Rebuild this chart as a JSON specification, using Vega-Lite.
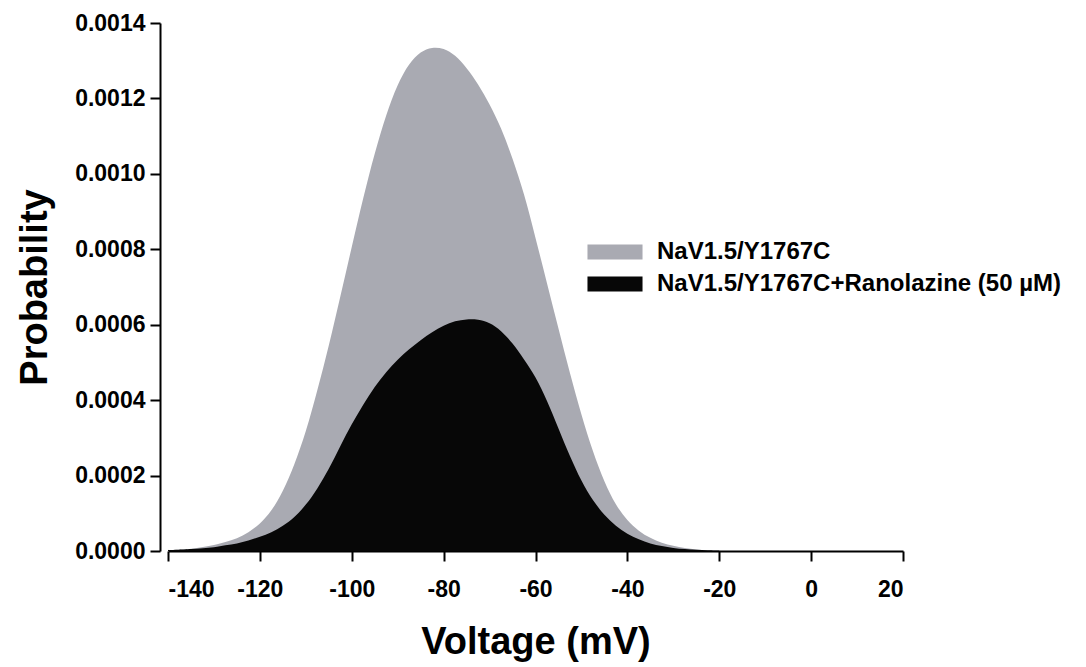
{
  "$schema": "https://vega.github.io/schema/vega-lite/v6.json",
  "width": 735,
  "height": 528,
  "autosize": {"type": "none"},
  "padding": {"left": 168, "top": 23, "right": 183, "bottom": 116},
  "background": "white",
  "config": {
    "view": {"stroke": null},
    "font": "Liberation Sans",
    "axis": {
      "domainColor": "black",
      "domainWidth": 2,
      "tickColor": "black",
      "tickWidth": 2,
      "tickSize": 10,
      "grid": false,
      "labelFont": "Liberation Sans",
      "labelFontWeight": "bold",
      "labelFontSize": 23,
      "labelColor": "black",
      "titleFont": "Liberation Sans",
      "titleFontWeight": "bold",
      "titleFontSize": 38,
      "titleColor": "black"
    },
    "legend": {
      "labelFont": "Liberation Sans",
      "labelFontWeight": "bold",
      "labelFontSize": 24,
      "labelColor": "black",
      "labelLimit": 600
    }
  },
  "data": {
    "values": [
      {"series": "NaV1.5/Y1767C", "voltage": -140, "probability": 0.000002},
      {"series": "NaV1.5/Y1767C", "voltage": -135, "probability": 0.000006},
      {"series": "NaV1.5/Y1767C", "voltage": -130, "probability": 0.000016},
      {"series": "NaV1.5/Y1767C", "voltage": -127.5, "probability": 0.000024},
      {"series": "NaV1.5/Y1767C", "voltage": -125, "probability": 0.000034},
      {"series": "NaV1.5/Y1767C", "voltage": -122.5, "probability": 0.00005},
      {"series": "NaV1.5/Y1767C", "voltage": -120, "probability": 0.000073},
      {"series": "NaV1.5/Y1767C", "voltage": -117.5, "probability": 0.000108},
      {"series": "NaV1.5/Y1767C", "voltage": -115, "probability": 0.00016},
      {"series": "NaV1.5/Y1767C", "voltage": -112.5, "probability": 0.00023},
      {"series": "NaV1.5/Y1767C", "voltage": -110, "probability": 0.000318},
      {"series": "NaV1.5/Y1767C", "voltage": -107.5, "probability": 0.000426},
      {"series": "NaV1.5/Y1767C", "voltage": -105, "probability": 0.000545},
      {"series": "NaV1.5/Y1767C", "voltage": -102.5, "probability": 0.000674},
      {"series": "NaV1.5/Y1767C", "voltage": -100, "probability": 0.000806},
      {"series": "NaV1.5/Y1767C", "voltage": -97.5, "probability": 0.000935},
      {"series": "NaV1.5/Y1767C", "voltage": -95, "probability": 0.001053},
      {"series": "NaV1.5/Y1767C", "voltage": -92.5, "probability": 0.001155},
      {"series": "NaV1.5/Y1767C", "voltage": -90, "probability": 0.001235},
      {"series": "NaV1.5/Y1767C", "voltage": -87.5, "probability": 0.00129},
      {"series": "NaV1.5/Y1767C", "voltage": -85, "probability": 0.001322},
      {"series": "NaV1.5/Y1767C", "voltage": -82.5, "probability": 0.001334},
      {"series": "NaV1.5/Y1767C", "voltage": -80, "probability": 0.001331},
      {"series": "NaV1.5/Y1767C", "voltage": -77.5, "probability": 0.001313},
      {"series": "NaV1.5/Y1767C", "voltage": -75, "probability": 0.00128},
      {"series": "NaV1.5/Y1767C", "voltage": -72.5, "probability": 0.001237},
      {"series": "NaV1.5/Y1767C", "voltage": -70, "probability": 0.001184},
      {"series": "NaV1.5/Y1767C", "voltage": -67.5, "probability": 0.00112},
      {"series": "NaV1.5/Y1767C", "voltage": -65, "probability": 0.00104},
      {"series": "NaV1.5/Y1767C", "voltage": -62.5, "probability": 0.000945},
      {"series": "NaV1.5/Y1767C", "voltage": -60, "probability": 0.00083},
      {"series": "NaV1.5/Y1767C", "voltage": -57.5, "probability": 0.00071},
      {"series": "NaV1.5/Y1767C", "voltage": -55, "probability": 0.00059},
      {"series": "NaV1.5/Y1767C", "voltage": -52.5, "probability": 0.000472},
      {"series": "NaV1.5/Y1767C", "voltage": -50, "probability": 0.000362},
      {"series": "NaV1.5/Y1767C", "voltage": -47.5, "probability": 0.000265},
      {"series": "NaV1.5/Y1767C", "voltage": -45, "probability": 0.000185},
      {"series": "NaV1.5/Y1767C", "voltage": -42.5, "probability": 0.000124},
      {"series": "NaV1.5/Y1767C", "voltage": -40, "probability": 0.000082},
      {"series": "NaV1.5/Y1767C", "voltage": -37.5, "probability": 0.000054},
      {"series": "NaV1.5/Y1767C", "voltage": -35, "probability": 0.000035},
      {"series": "NaV1.5/Y1767C", "voltage": -32.5, "probability": 0.000022},
      {"series": "NaV1.5/Y1767C", "voltage": -30, "probability": 0.000014},
      {"series": "NaV1.5/Y1767C", "voltage": -27.5, "probability": 0.000008},
      {"series": "NaV1.5/Y1767C", "voltage": -25, "probability": 0.000004},
      {"series": "NaV1.5/Y1767C", "voltage": -22.5, "probability": 0.000002},
      {"series": "NaV1.5/Y1767C", "voltage": -20, "probability": 0.000001},
      {"series": "NaV1.5/Y1767C+Ranolazine (50 µM)", "voltage": -140, "probability": 0.000002},
      {"series": "NaV1.5/Y1767C+Ranolazine (50 µM)", "voltage": -135, "probability": 0.000005},
      {"series": "NaV1.5/Y1767C+Ranolazine (50 µM)", "voltage": -130, "probability": 0.00001},
      {"series": "NaV1.5/Y1767C+Ranolazine (50 µM)", "voltage": -127.5, "probability": 0.000015},
      {"series": "NaV1.5/Y1767C+Ranolazine (50 µM)", "voltage": -125, "probability": 0.00002},
      {"series": "NaV1.5/Y1767C+Ranolazine (50 µM)", "voltage": -122.5, "probability": 0.000028},
      {"series": "NaV1.5/Y1767C+Ranolazine (50 µM)", "voltage": -120, "probability": 0.000038},
      {"series": "NaV1.5/Y1767C+Ranolazine (50 µM)", "voltage": -117.5, "probability": 0.00005},
      {"series": "NaV1.5/Y1767C+Ranolazine (50 µM)", "voltage": -115, "probability": 0.000067},
      {"series": "NaV1.5/Y1767C+Ranolazine (50 µM)", "voltage": -112.5, "probability": 0.00009},
      {"series": "NaV1.5/Y1767C+Ranolazine (50 µM)", "voltage": -110, "probability": 0.000123},
      {"series": "NaV1.5/Y1767C+Ranolazine (50 µM)", "voltage": -107.5, "probability": 0.000166},
      {"series": "NaV1.5/Y1767C+Ranolazine (50 µM)", "voltage": -105, "probability": 0.000218},
      {"series": "NaV1.5/Y1767C+Ranolazine (50 µM)", "voltage": -102.5, "probability": 0.000278},
      {"series": "NaV1.5/Y1767C+Ranolazine (50 µM)", "voltage": -100, "probability": 0.000336},
      {"series": "NaV1.5/Y1767C+Ranolazine (50 µM)", "voltage": -97.5, "probability": 0.000388},
      {"series": "NaV1.5/Y1767C+Ranolazine (50 µM)", "voltage": -95, "probability": 0.000435},
      {"series": "NaV1.5/Y1767C+Ranolazine (50 µM)", "voltage": -92.5, "probability": 0.000474},
      {"series": "NaV1.5/Y1767C+Ranolazine (50 µM)", "voltage": -90, "probability": 0.000507},
      {"series": "NaV1.5/Y1767C+Ranolazine (50 µM)", "voltage": -87.5, "probability": 0.000535},
      {"series": "NaV1.5/Y1767C+Ranolazine (50 µM)", "voltage": -85, "probability": 0.000559},
      {"series": "NaV1.5/Y1767C+Ranolazine (50 µM)", "voltage": -82.5, "probability": 0.00058},
      {"series": "NaV1.5/Y1767C+Ranolazine (50 µM)", "voltage": -80, "probability": 0.000597},
      {"series": "NaV1.5/Y1767C+Ranolazine (50 µM)", "voltage": -77.5, "probability": 0.000609},
      {"series": "NaV1.5/Y1767C+Ranolazine (50 µM)", "voltage": -75, "probability": 0.000614},
      {"series": "NaV1.5/Y1767C+Ranolazine (50 µM)", "voltage": -72.5, "probability": 0.000613},
      {"series": "NaV1.5/Y1767C+Ranolazine (50 µM)", "voltage": -70, "probability": 0.000604},
      {"series": "NaV1.5/Y1767C+Ranolazine (50 µM)", "voltage": -67.5, "probability": 0.000583},
      {"series": "NaV1.5/Y1767C+Ranolazine (50 µM)", "voltage": -65, "probability": 0.00055},
      {"series": "NaV1.5/Y1767C+Ranolazine (50 µM)", "voltage": -62.5, "probability": 0.000508},
      {"series": "NaV1.5/Y1767C+Ranolazine (50 µM)", "voltage": -60, "probability": 0.00046},
      {"series": "NaV1.5/Y1767C+Ranolazine (50 µM)", "voltage": -57.5, "probability": 0.000398},
      {"series": "NaV1.5/Y1767C+Ranolazine (50 µM)", "voltage": -55, "probability": 0.000325},
      {"series": "NaV1.5/Y1767C+Ranolazine (50 µM)", "voltage": -52.5, "probability": 0.000252},
      {"series": "NaV1.5/Y1767C+Ranolazine (50 µM)", "voltage": -50, "probability": 0.000187},
      {"series": "NaV1.5/Y1767C+Ranolazine (50 µM)", "voltage": -47.5, "probability": 0.000135},
      {"series": "NaV1.5/Y1767C+Ranolazine (50 µM)", "voltage": -45, "probability": 0.000096},
      {"series": "NaV1.5/Y1767C+Ranolazine (50 µM)", "voltage": -42.5, "probability": 0.000067},
      {"series": "NaV1.5/Y1767C+Ranolazine (50 µM)", "voltage": -40, "probability": 0.000046},
      {"series": "NaV1.5/Y1767C+Ranolazine (50 µM)", "voltage": -37.5, "probability": 0.000031},
      {"series": "NaV1.5/Y1767C+Ranolazine (50 µM)", "voltage": -35, "probability": 0.00002},
      {"series": "NaV1.5/Y1767C+Ranolazine (50 µM)", "voltage": -32.5, "probability": 0.000013},
      {"series": "NaV1.5/Y1767C+Ranolazine (50 µM)", "voltage": -30, "probability": 0.000008},
      {"series": "NaV1.5/Y1767C+Ranolazine (50 µM)", "voltage": -27.5, "probability": 0.000005},
      {"series": "NaV1.5/Y1767C+Ranolazine (50 µM)", "voltage": -25, "probability": 0.000003},
      {"series": "NaV1.5/Y1767C+Ranolazine (50 µM)", "voltage": -22.5, "probability": 0.000002},
      {"series": "NaV1.5/Y1767C+Ranolazine (50 µM)", "voltage": -20, "probability": 0.000001}
    ]
  },
  "mark": {"type": "area", "interpolate": "catmull-rom", "opacity": 1},
  "encoding": {
    "x": {
      "field": "voltage",
      "type": "quantitative",
      "scale": {"domain": [-140, 20], "nice": false, "zero": false},
      "axis": {
        "title": "Voltage (mV)",
        "values": [-140, -120, -100, -80, -60, -40, -20, 0, 20],
        "labelExpr": "toString(datum.value)",
        "labelPadding": 17,
        "titlePadding": 22
      }
    },
    "y": {
      "field": "probability",
      "type": "quantitative",
      "stack": null,
      "scale": {"domain": [0, 0.0014], "nice": false},
      "axis": {
        "title": "Probability",
        "values": [0, 0.0002, 0.0004, 0.0006, 0.0008, 0.001, 0.0012, 0.0014],
        "format": ".4f",
        "offset": 8,
        "labelPadding": 5,
        "titlePadding": 20
      }
    },
    "color": {
      "field": "series",
      "type": "nominal",
      "scale": {
        "domain": ["NaV1.5/Y1767C", "NaV1.5/Y1767C+Ranolazine (50 µM)"],
        "range": ["#a9aab2", "#070707"]
      },
      "legend": {
        "title": null,
        "orient": "none",
        "legendX": 435,
        "legendY": 217,
        "padding": 0,
        "symbolType": "M-3.67,-1H3.67V1H-3.67Z",
        "symbolSize": 225,
        "symbolStrokeWidth": 0,
        "symbolOpacity": 1,
        "labelOffset": 30,
        "rowPadding": 8
      }
    },
    "order": {"field": "series", "sort": "ascending"}
  }
}
